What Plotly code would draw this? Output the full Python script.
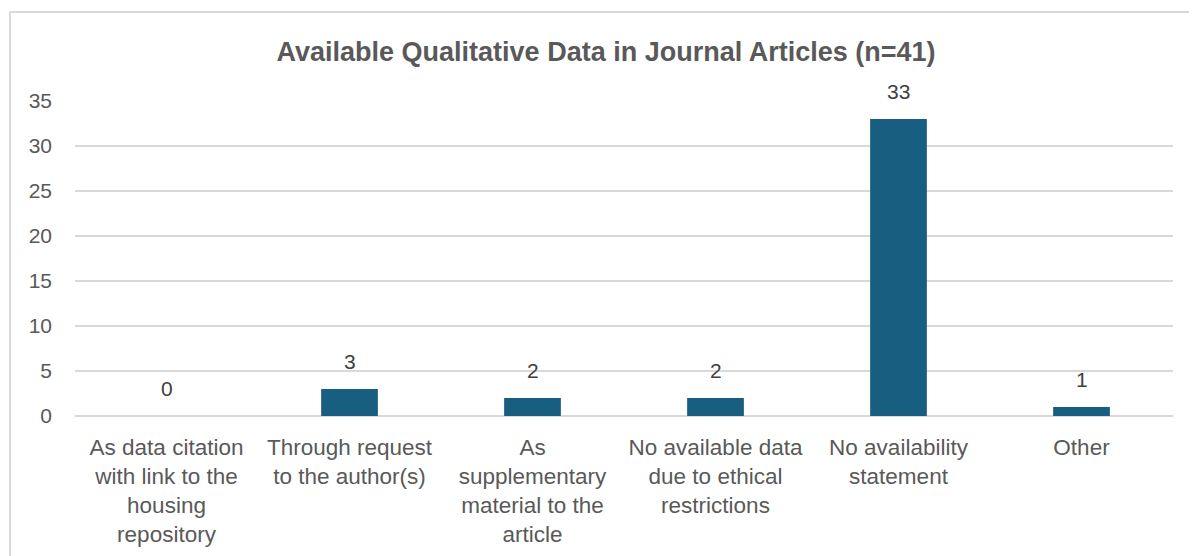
import plotly.graph_objects as go

# categories and counts
categories = [
    "As data citation<br>with link to the<br>housing<br>repository",
    "Through request<br>to the author(s)",
    "As<br>supplementary<br>material to the<br>article",
    "No available data<br>due to ethical<br>restrictions",
    "No availability<br>statement",
    "Other",
]
counts = [0, 3, 2, 2, 33, 1]
y_ticks = [0, 5, 10, 15, 20, 25, 30, 35]

bar_color = "#175E80"
grid_color = "#D9D9D9"
text_color = "#595959"
font_family = "Liberation Sans, Arial, sans-serif"

fig = go.Figure()
fig.add_bar(x=categories, y=counts, marker=dict(color=bar_color, line=dict(width=0)))

# value labels above bars
for cat, val in zip(categories, counts):
    fig.add_annotation(
        x=cat, y=val, text=str(val), showarrow=False,
        yanchor="bottom", yshift=14,
        font=dict(family=font_family, size=21, color="#404040"),
    )

# light frame around the chart area (Excel chart border)
fig.add_shape(
    type="rect", xref="paper", yref="paper",
    x0=-0.0592, x1=1.1, y0=-0.6, y1=1.2825,
    line=dict(color="#D9D9D9", width=2), fillcolor="rgba(0,0,0,0)",
    layer="below",
)

# page body has an 8px margin, so everything is offset by 8px
fig.update_layout(
    width=1197, height=556,
    margin=dict(l=67, r=32, t=93, b=148),
    paper_bgcolor="white", plot_bgcolor="white",
    bargap=0.69,
    showlegend=False,
    font=dict(family=font_family, color=text_color),
    title=dict(
        text="<b>Available Qualitative Data in Journal Articles (n=41)</b>",
        x=0.4996, xref="container", xanchor="center",
        y=1 - 44 / 556, yref="container", yanchor="middle",
        font=dict(family=font_family, size=27, color=text_color),
    ),
    xaxis=dict(
        showgrid=False, showline=False, ticks="",
        ticklabelstandoff=15,
        tickfont=dict(family=font_family, size=22.5, color=text_color),
        fixedrange=True,
    ),
    yaxis=dict(
        range=[0, 35], tickvals=y_ticks,
        showgrid=True, gridcolor=grid_color, gridwidth=1.5,
        zeroline=True, zerolinecolor=grid_color, zerolinewidth=1.5,
        showline=False, ticks="",
        ticklabelstandoff=22,
        tickfont=dict(family=font_family, size=21, color=text_color),
    ),
)

fig.write_html("out.html")
